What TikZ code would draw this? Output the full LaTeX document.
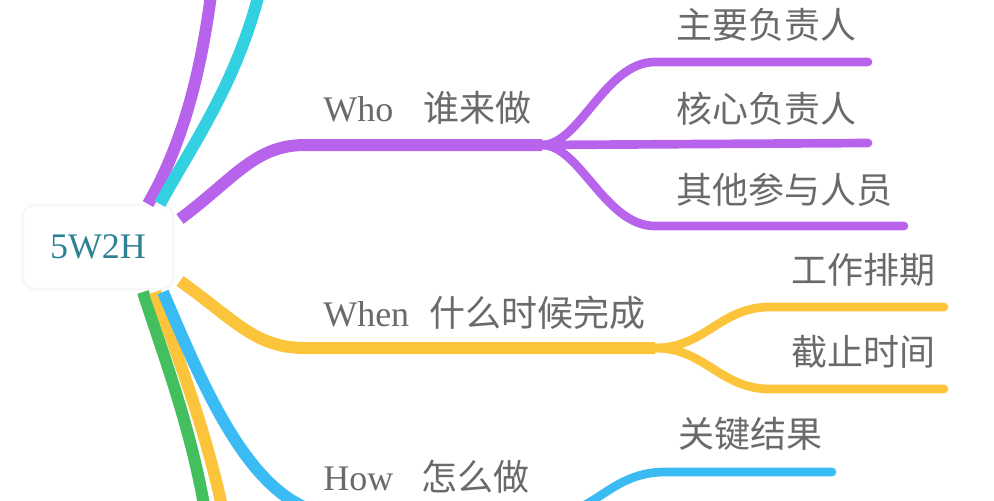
\documentclass[tikz,border=0pt]{standalone}
\usepackage{fontspec}
\setmainfont{Liberation Serif}
\newfontfamily\cjk{Noto Sans CJK SC}
\definecolor{cpurple}{HTML}{B763EC}
\definecolor{ccyan}{HTML}{33D0E2}
\definecolor{cyellow}{HTML}{FBC43A}
\definecolor{cblue}{HTML}{3BBBF3}
\definecolor{cgreen}{HTML}{44BF5D}
\definecolor{ctext}{HTML}{6A6A6A}
\definecolor{cteal}{HTML}{2E8393}
\begin{document}
\begin{tikzpicture}[x=0.75pt,y=-0.75pt,
  branch/.style={line width=9pt,line cap=butt},
  twig/.style={line width=6.5pt,line cap=round},
  lbl/.style={anchor=base west,inner sep=0pt,text=ctext,font=\fontsize{27pt}{32pt}\selectfont},
  rootbox/.style={draw=black!3,line width=2pt,fill=white,rounded corners=9pt,minimum width=113pt,minimum height=63pt,inner sep=0pt,text=cteal,font=\fontsize{27pt}{32pt}\selectfont}]
\useasboundingbox (0,0) rectangle (994,500);
\fill[white] (0,0) rectangle (994,500);
\clip (0,0) rectangle (994,500);

% root
\node[rootbox] (root) at (98,247) {5W2H};

% labels
\node[lbl] (who) at (323,121) {Who\hspace{22.5pt}{\cjk 谁来做}};
\node[lbl] (when) at (323,326) {When\hspace{15pt}{\cjk 什么时候完成}};
\node[lbl] (how) at (323,490) {How\hspace{21pt}{\cjk 怎么做}};
\node[lbl] (w1) at (676.5,38) {\cjk 主要负责人};
\node[lbl] (w2) at (676.5,122) {\cjk 核心负责人};
\node[lbl] (w3) at (676.5,203) {\cjk 其他参与人员};
\node[lbl] (n1) at (791.5,283) {\cjk 工作排期};
\node[lbl] (n2) at (791.5,365) {\cjk 截止时间};
\node[lbl] (h1) at (678.5,447) {\cjk 关键结果};

% coordinates
\coordinate (sTopP) at (148,204);
\coordinate (sTopC) at (160,204);
\coordinate (sWho) at (180,219);
\coordinate (sWhen) at (180,281);
\coordinate (sG) at (143,292);
\coordinate (sY) at (155,292);
\coordinate (sB) at (163,292);
\coordinate (eTopP) at (215,-40);
\coordinate (eTopC) at (260,-10);
\coordinate (eG) at (212,560);
\coordinate (eY) at (232,560);
\coordinate (jWho) at (542,145);
\coordinate (jWhen) at (655,348);
\coordinate (jHow) at (548,515);
\coordinate (ew1) at (868,62);
\coordinate (ew2) at (868,143);
\coordinate (ew3) at (904,226);
\coordinate (en1) at (944,307);
\coordinate (en2) at (944,389);
\coordinate (eh1) at (832,472);

% branches off the picture
\draw[branch,cpurple] (sTopP) .. controls (185,140) and (205,60) .. (eTopP);
\draw[branch,ccyan] (sTopC) .. controls (192,145) and (236,85) .. (eTopC);
\draw[branch,cgreen] (sG) .. controls (168,370) and (200,450) .. (eG);
\draw[branch,cyellow] (sY) .. controls (180,365) and (215,450) .. (eY);

% Who
\draw[branch,cpurple] (sWho) .. controls (235,178) and (255,145) .. (305,145) -- (jWho);
\draw[twig,cpurple] (jWho) .. controls (580,145) and (605,62) .. (655,62) -- (ew1);
\draw[twig,cpurple] (jWho) -- (ew2);
\draw[twig,cpurple] (jWho) .. controls (580,145) and (605,226) .. (655,226) -- (ew3);

% When
\draw[branch,cyellow] (sWhen) .. controls (235,320) and (255,348) .. (305,348) -- (jWhen);
\draw[twig,cyellow] (jWhen) .. controls (705,348) and (720,307) .. (770,307) -- (en1);
\draw[twig,cyellow] (jWhen) .. controls (705,348) and (720,389) .. (770,389) -- (en2);

% How
\draw[branch,cblue] (sB) .. controls (205,390) and (255,515) .. (340,515) -- (jHow);
\draw[twig,cblue] (jHow) .. controls (595,515) and (610,472) .. (665,472) -- (eh1);
\end{tikzpicture}
\end{document}
